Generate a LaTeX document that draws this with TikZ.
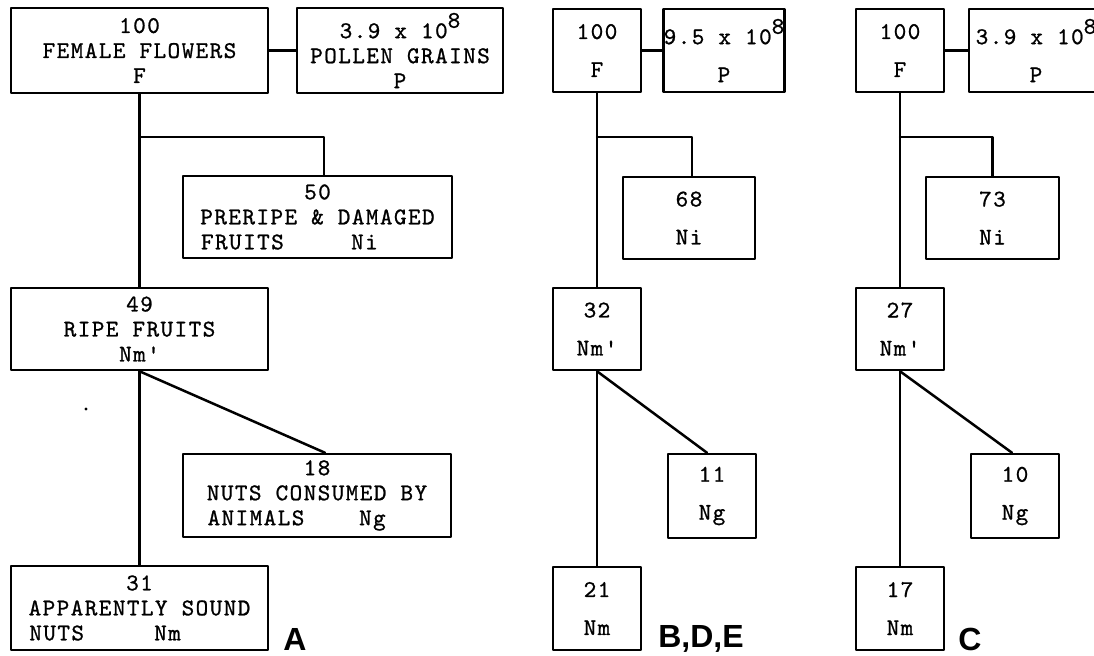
\documentclass[tikz,border=0pt]{standalone}
\usepackage{fontspec}
\newfontfamily\typewriter[LetterSpace=6, FakeBold=0.9]{lmmono10-regular.otf}
\newfontfamily\panelfont{Liberation Sans}
\newcommand\eight{\raisebox{1ex}{8}}
\begin{document}
\begin{tikzpicture}[x=.5pt, y=-.5pt, line join=round, line cap=round,
		box/.style={draw, line width=1.25pt, inner sep=0pt, align=center,
			font=\typewriter\fontsize{12}{12.5}\selectfont},
		tall/.style={box, font=\typewriter\fontsize{12}{19}\selectfont},
		wh/.style 2 args={minimum width=#1*.5pt, minimum height=#2*.5pt},
		link/.style={line width=1.25pt},
		panel/.style={inner sep=0pt, font=\panelfont\bfseries\fontsize{16}{16}\selectfont}]
	\useasboundingbox (0,0) rectangle (1094,655);
	% A
	\node[box, wh={257}{85}] (AF) at (139.5,50.5) {100\\FEMALE FLOWERS\\F};
	\node[box, wh={206}{85}] (AP) at (400,50.5) {3.9 x 10\eight\\POLLEN GRAINS\\P};
	\node[box, wh={269}{82}] (ANi) at (317.5,217) {50\\PRERIPE \& DAMAGED\\\rlap{FRUITS}\phantom{PRERIPE \& D}\rlap{Ni}\phantom{AMAGED}};
	\node[box, wh={257}{82}] (ANmp) at (139.5,329) {49\\RIPE FRUITS\\Nm'};
	\node[box, wh={268}{83}] (ANg) at (317,495.5) {18\\NUTS CONSUMED BY\\\rlap{ANIMALS}\phantom{NUTS CONSUM}\rlap{Ng}\phantom{ED BY}};
	\node[box, wh={257}{84}] (ANm) at (139.5,608) {31\\APPARENTLY SOUND\\\rlap{NUTS}\phantom{APPARENTL}\rlap{Nm}\phantom{Y SOUND}};
	\node[panel] (Alab) at (295,639) {A};
	\coordinate (Abr) at (139.5,137);
	\draw[link] (AF) -- (AP);
	\draw[link] (AF.south) -- (ANmp.north);
	\draw[link] (Abr) -| ([xshift=3.25pt]ANi.north);
	\draw[link] (ANmp.south) -- ([xshift=4pt]ANg.north);
	\draw[link] (ANmp.south) -- (ANm.north);
	\fill (86,409) circle (.8pt);
	% B, D, E
	\node[tall, wh={88}{83}] (BF) at (597,50.5) {100\\F};
	\node[tall, wh={112}{83}] (BP) at (724,50.5) {9.5 x 10\eight\\P};
	\node[tall, wh={132}{82}] (BNi) at (689,218) {68\\Ni};
	\node[tall, wh={88}{82}] (BNmp) at (597,329) {32\\Nm'};
	\node[tall, wh={88}{84}] (BNg) at (712,496) {11\\Ng};
	\node[tall, wh={88}{83}] (BNm) at (597,608.5) {21\\Nm};
	\node[panel] (Blab) at (701,639) {B,D,E};
	\coordinate (Bbr) at (597,137);
	\draw[link] (BF) -- (BP);
	\draw[link] (BF.south) -- (BNmp.north);
	\draw[link] (Bbr) -| ([xshift=1.5pt]BNi.north);
	\draw[link] (BNmp.south) -- ([xshift=-2.5pt]BNg.north);
	\draw[link] (BNmp.south) -- (BNm.north);
	% C
	\node[tall, wh={88}{83}] (CF) at (900,50.5) {100\\F};
	\node[tall, wh={134}{83}] (CP) at (1036,50.5) {3.9 x 10\eight\\P};
	\node[tall, wh={133}{82}] (CNi) at (992.5,218) {73\\Ni};
	\node[tall, wh={88}{82}] (CNmp) at (900,329) {27\\Nm'};
	\node[tall, wh={88}{84}] (CNg) at (1015,496) {10\\Ng};
	\node[tall, wh={88}{83}] (CNm) at (900,608.5) {17\\Nm};
	\node[panel] (Clab) at (970,639) {C};
	\coordinate (Cbr) at (900,137);
	\draw[link] (CF) -- (CP);
	\draw[link] (CF.south) -- (CNmp.north);
	\draw[link] (Cbr) -| (CNi.north);
	\draw[link] (CNmp.south) -- ([xshift=-1.5pt]CNg.north);
	\draw[link] (CNmp.south) -- (CNm.north);
\end{tikzpicture}
\end{document}
